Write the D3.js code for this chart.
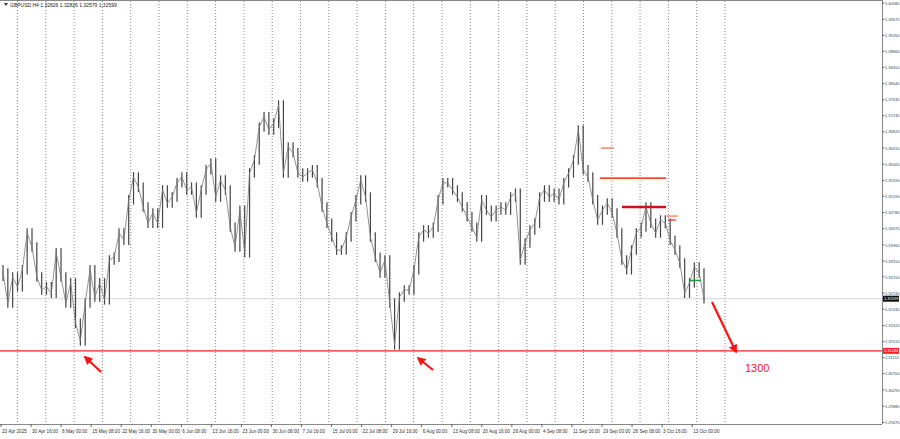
<!DOCTYPE html>
<html><head><meta charset="utf-8">
<script src="https://cdn.jsdelivr.net/npm/d3@7/dist/d3.min.js"></script>
<style>body{margin:0;background:#fff}text{font-family:"Liberation Sans",Arial,sans-serif}</style>
</head><body><div id="chart"></div>
<script>
var closes = [1.3325,1.3249,1.3315,1.3290,1.3333,1.3426,1.3391,1.3315,1.3282,1.3290,1.3274,1.3376,1.3315,1.3249,1.3300,1.3198,1.3153,1.3249,1.3333,1.3264,1.3300,1.3257,1.3358,1.3365,1.3426,1.3408,1.3510,1.3568,1.3542,1.3492,1.3451,1.3477,1.3451,1.3535,1.3502,1.3517,1.3553,1.3568,1.3535,1.3542,1.3477,1.3535,1.3586,1.3603,1.3517,1.3560,1.3535,1.3441,1.3391,1.3484,1.3376,1.3578,1.3611,1.3694,1.3720,1.3687,1.3704,1.3750,1.3578,1.3644,1.3629,1.3578,1.3568,1.3578,1.3586,1.3553,1.3492,1.3451,1.3416,1.3383,1.3383,
  1.3416,1.3467,1.3510,1.3560,1.3517,1.3416,1.3365,1.3325,1.3358,1.3249,1.3143,1.3264,1.3282,1.3282,1.3333,1.3416,1.3434,1.3426,1.3441,1.3510,1.3553,1.3553,1.3535,1.3517,1.3492,1.3467,1.3441,1.3416,1.3510,1.3484,1.3467,1.3484,1.3492,1.3484,1.3517,1.3527,1.3358,1.3401,1.3434,1.3451,1.3517,1.3535,1.3517,1.3527,1.3510,1.3553,1.3578,1.3611,1.3687,1.3586,1.3568,1.3510,1.3459,1.3484,1.3502,1.3477,1.3426,1.3358,1.3333,1.3383,1.3426,1.3441,1.3492,1.3451,1.3426,1.3459,1.3451,1.3408,1.3383,1.3350,1.3274,1.3300,1.3340,1.3325,1.3260];
var priceTicks = ["1.40080","1.39670","1.39260","1.38860","1.38450","1.38040","1.37630","1.37230","1.36820","1.36410","1.36000","1.35590","1.35190","1.34780","1.34370","1.33960","1.33550","1.33150","1.32740","1.32330","1.31920","1.31510","1.31110","1.30700","1.30290","1.29880","1.29470"];
var dateLabels = ["23 Apr 2025","30 Apr 16:00","8 May 00:00","15 May 08:00","22 May 16:00","30 May 00:00","6 Jun 08:00","13 Jun 16:00","23 Jun 00:00","30 Jun 08:00","7 Jul 16:00","15 Jul 00:00","22 Jul 08:00","29 Jul 16:00","6 Aug 00:00","13 Aug 08:00","20 Aug 16:00","28 Aug 00:00","4 Sep 08:00","11 Sep 16:00","19 Sep 00:00","26 Sep 08:00","3 Oct 16:00","13 Oct 00:00"];
var supportLevel = 1.3128, lastPrice = 1.32599, target = "1300";

var W = 900, H = 439, plotR = 882, plotB = 424;
var svg = d3.select("#chart").append("svg").attr("width", W).attr("height", H);

var y = d3.scaleLinear().domain([1.2947, 1.4008]).range([422.4, 3]);
var x = d3.scaleLinear().domain([0, closes.length - 1]).range([3, 704]);
var xd = d3.scaleLinear().domain([0, 1]).range([1, 31.05]);

// frame
svg.append("line").attr("x1", 0).attr("x2", plotR).attr("y1", 0.5).attr("y2", 0.5).attr("stroke", "#888");
svg.append("line").attr("x1", plotR + 0.5).attr("x2", plotR + 0.5).attr("y1", 0).attr("y2", plotB).attr("stroke", "#888");
svg.append("line").attr("x1", 0).attr("x2", plotR).attr("y1", plotB + 0.5).attr("y2", plotB + 0.5).attr("stroke", "#888");

// vertical dotted grid
svg.selectAll(".vg").data(d3.range(26)).enter().append("line")
  .attr("x1", function(k) { return 17.5 + k * 28.3; }).attr("x2", function(k) { return 17.5 + k * 28.3; })
  .attr("y1", 1).attr("y2", plotB)
  .attr("stroke", "#555").attr("stroke-width", 0.7).attr("stroke-dasharray", "1,2");

// price axis
var pt = svg.append("g");
priceTicks.forEach(function(t) {
  var yy = y(+t);
  pt.append("line").attr("x1", plotR).attr("x2", plotR + 2.5).attr("y1", yy).attr("y2", yy).attr("stroke", "#666");
  pt.append("text").attr("x", plotR + 3).attr("y", yy + 1.6).attr("font-size", 4).attr("fill", "#444").text(t);
});

// date axis
dateLabels.forEach(function(d, i) {
  var xx = xd(i);
  svg.append("line").attr("x1", xx).attr("x2", xx).attr("y1", plotB).attr("y2", plotB + 3).attr("stroke", "#666");
  svg.append("text").attr("x", xx + 1).attr("y", 433).attr("font-size", 4.6).attr("fill", "#333").text(d);
});

// current price line
svg.append("line").attr("x1", 0).attr("x2", plotR).attr("y1", y(lastPrice)).attr("y2", y(lastPrice)).attr("stroke", "#ccc").attr("stroke-width", 0.8);

// price bars
svg.selectAll(".bar").data(closes).enter().append("line")
  .attr("x1", function(d, i) { return x(i); }).attr("x2", function(d, i) { return x(i); })
  .attr("y1", function(d, i) { return y(i ? Math.max(closes[i - 1], d) + 0.0012 : d + 0.002); })
  .attr("y2", function(d, i) { return y(i ? Math.min(closes[i - 1], d) - 0.0012 : d - 0.002); })
  .attr("stroke", "#444").attr("stroke-width", 1.2);
svg.append("path").datum(closes)
  .attr("d", d3.line().x(function(d, i) { return x(i); }).y(function(d) { return y(d); }))
  .attr("fill", "none").attr("stroke", "#777").attr("stroke-width", 0.8);

// support line
svg.append("line").attr("x1", 0).attr("x2", plotR).attr("y1", y(supportLevel)).attr("y2", y(supportLevel)).attr("stroke", "#f22").attr("stroke-width", 1.2);

// levels
function seg(x1, x2, p, c, w) {
  svg.append("line").attr("x1", x1).attr("x2", x2).attr("y1", y(p)).attr("y2", y(p)).attr("stroke", c).attr("stroke-width", w);
}
seg(601, 614, 1.3641, "#ff6a3a", 1.2);
seg(600, 666, 1.3565, "#ff4a2a", 1.6);
seg(622, 666, 1.3492, "#d0101a", 2.4);
seg(667, 678, 1.3469, "#ff6a3a", 1.2);
seg(668, 676, 1.3459, "#e22", 1.2);
seg(689, 701, 1.3306, "#1a9a4a", 1.6);

// arrows
var defs = svg.append("defs");
defs.append("marker").attr("id", "ah").attr("viewBox", "0 0 10 10").attr("refX", 8).attr("refY", 5)
  .attr("markerWidth", 4).attr("markerHeight", 4).attr("orient", "auto")
  .append("path").attr("d", "M0,0L10,5L0,10z").attr("fill", "#f11");
[[101, 372, 85, 357], [433, 370, 418, 358], [712, 302, 736, 352]].forEach(function(a) {
  svg.append("line").attr("x1", a[0]).attr("y1", a[1]).attr("x2", a[2]).attr("y2", a[3])
    .attr("stroke", "#f11").attr("stroke-width", 2.2).attr("marker-end", "url(#ah)");
});
svg.append("text").attr("x", 745).attr("y", 372).attr("font-size", 11).attr("fill", "#e22").text(target);

// axis price tags
function tag(p, bg) {
  svg.append("rect").attr("x", plotR + 1).attr("y", y(p) - 3).attr("width", 16).attr("height", 6).attr("fill", bg);
  svg.append("text").attr("x", plotR + 2).attr("y", y(p) + 1.6).attr("font-size", 4).attr("fill", "#fff").text(p.toFixed(5));
}
tag(lastPrice, "#111");
tag(supportLevel, "#f22");

// title
svg.append("path").attr("d", "M4,3L8,3L6,6z").attr("fill", "#333");
svg.append("text").attr("x", 10).attr("y", 7).attr("font-size", 5).attr("fill", "#222")
  .text("GBPUSD,H4  1.32826 1.32826 1.32579 1.32599");
</script></body></html>
